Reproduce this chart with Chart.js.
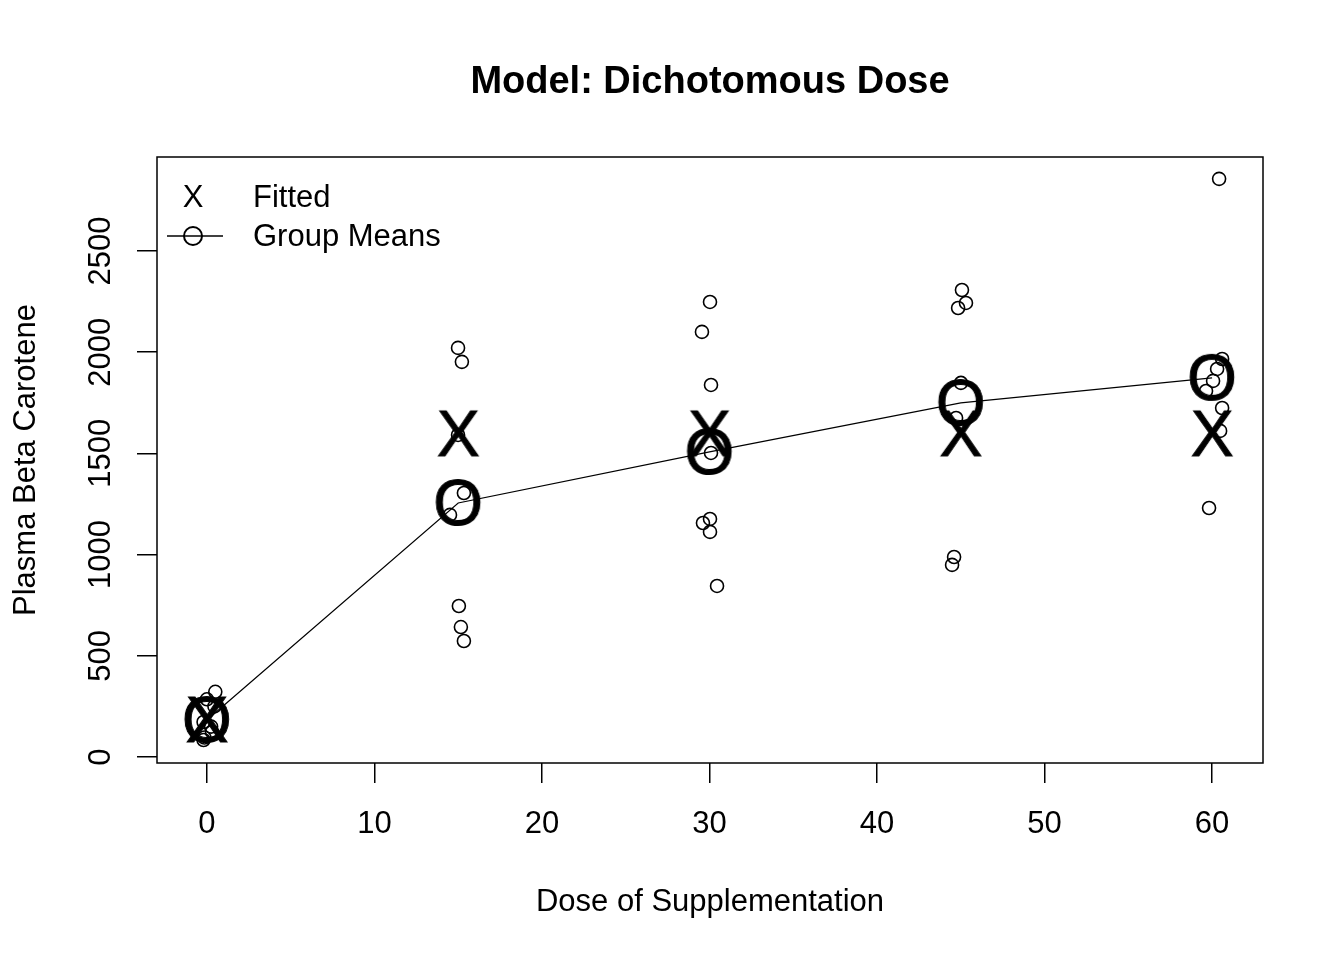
<!DOCTYPE html>
<html>
<head>
<meta charset="utf-8">
<script src="https://cdn.jsdelivr.net/npm/chart.js@4.4.1/dist/chart.umd.min.js"></script>
<style>
  html, body { margin: 0; padding: 0; background: #fff; }
  #wrap { width: 1344px; height: 960px; }
</style>
</head>
<body>
<div id="wrap"><canvas id="chart" width="1344" height="960"></canvas></div>
<script>
// dose groups and their summaries
const doses = [0, 15, 30, 45, 60];
const groupMeans = [183, 1255, 1507, 1749, 1873];
const fitted = [183, 1596, 1596, 1596, 1596];

// individual observations (dose jittered a little, as in the picture)
const obsDose = [
  0.5, 0.0, 0.45, -0.2, 0.25, 0.3, -0.15, -0.2,
  14.99, 15.22, 15.34, 14.51, 15.04, 15.16, 15.34, 14.99,
  30.03, 29.55, 30.09, 30.09, 29.61, 30.03, 30.03, 30.45,
  45.07, 45.31, 44.84, 45.01, 44.72, 44.60, 44.48,
  60.42, 60.60, 60.30, 60.06, 59.64, 60.60, 60.48, 59.82
];
const obsCarotene = [
  322, 285, 250, 173, 150, 124, 96, 84,
  2021, 1952, 1304, 1196, 746, 642, 573, 1591,
  2248, 2100, 1838, 1502, 1156, 1176, 1112, 845,
  2307, 2243, 2218, 1848, 1675, 988, 949,
  2856, 1966, 1917, 1858, 1808, 1724, 1611, 1230
];

const xTicks = [0, 10, 20, 30, 40, 50, 60];
const yTicks = [0, 500, 1000, 1500, 2000, 2500];

const FONT = 'Liberation Sans, Arial, sans-serif';

// big text glyphs used as plotting symbols (like pch = "X" / "O")
function glyph(ch, size) {
  const c = document.createElement('canvas');
  c.width = size * 1.2;
  c.height = size * 1.2;
  const g = c.getContext('2d');
  g.fillStyle = '#000';
  g.strokeStyle = '#000';
  g.lineWidth = 1;
  g.font = size + 'px ' + FONT;
  g.textAlign = 'center';
  g.textBaseline = 'middle';
  // nudge down so the glyph's ink is centred on the point
  g.fillText(ch, c.width / 2, c.height / 2 + 4);
  g.strokeText(ch, c.width / 2, c.height / 2 + 4);
  return c;
}
const xGlyph = glyph('X', 64);
const oGlyph = glyph('O', 64);

const boxPlugin = {
  id: 'box',
  afterDraw(chart) {
    const { ctx, chartArea: a } = chart;
    ctx.save();
    ctx.strokeStyle = '#000';
    ctx.lineWidth = 1.5;
    ctx.strokeRect(a.left, a.top, a.right - a.left, a.bottom - a.top);

    // legend
    ctx.fillStyle = '#000';
    ctx.font = '31px ' + FONT;
    ctx.textBaseline = 'middle';
    ctx.textAlign = 'center';
    ctx.fillText('X', 193, 198);
    ctx.textAlign = 'left';
    ctx.fillText('Fitted', 253, 198);
    ctx.fillText('Group Means', 253, 237);
    ctx.lineWidth = 1.3;
    ctx.beginPath();
    ctx.moveTo(167, 236);
    ctx.lineTo(223, 236);
    ctx.stroke();
    ctx.lineWidth = 2;
    ctx.beginPath();
    ctx.arc(193, 236, 9, 0, Math.PI * 2);
    ctx.stroke();
    ctx.restore();
  }
};

new Chart(document.getElementById('chart'), {
  type: 'scatter',
  data: {
    datasets: [
      {
        label: 'Observed',
        data: obsDose.map((d, i) => ({ x: d, y: obsCarotene[i] })),
        pointStyle: 'circle',
        pointRadius: 6.5,
        borderColor: '#000',
        borderWidth: 1.6,
        backgroundColor: 'rgba(0,0,0,0)'
      },
      {
        label: 'Group Means',
        data: doses.map((d, i) => ({ x: d, y: groupMeans[i] })),
        showLine: true,
        borderColor: '#000',
        borderWidth: 1.2,
        pointStyle: oGlyph,
        backgroundColor: 'rgba(0,0,0,0)'
      },
      {
        label: 'Fitted',
        data: doses.map((d, i) => ({ x: d, y: fitted[i] })),
        pointStyle: xGlyph,
        borderColor: '#000',
        backgroundColor: 'rgba(0,0,0,0)'
      }
    ]
  },
  options: {
    responsive: false,
    animation: false,
    events: [],
    layout: { padding: { left: 0, right: 81, top: 0, bottom: 0 } },
    plugins: {
      legend: { display: false },
      tooltip: { enabled: false },
      title: {
        display: true,
        fullSize: false,
        text: 'Model: Dichotomous Dose',
        color: '#000',
        font: { family: FONT, size: 38, weight: 'bold', lineHeight: 1.2 },
        padding: { top: 60.2, bottom: 51.2 }
      }
    },
    scales: {
      x: {
        type: 'linear',
        min: -2.98,
        max: 63.04,
        afterBuildTicks: s => { s.ticks = xTicks.map(v => ({ value: v })); },
        afterFit: s => { s.height = 197; },
        grid: { drawOnChartArea: false, drawTicks: true, tickLength: 20, color: '#000', lineWidth: 1.5 },
        border: { display: false },
        ticks: { color: '#000', font: { family: FONT, size: 31 }, padding: 23, maxRotation: 0, callback: v => String(v) },
        title: {
          display: true,
          text: 'Dose of Supplementation',
          color: '#000',
          font: { family: FONT, size: 31, lineHeight: 1.2 },
          padding: { bottom: 39 }
        }
      },
      y: {
        type: 'linear',
        min: -29.6,
        max: 2964,
        afterBuildTicks: s => { s.ticks = yTicks.map(v => ({ value: v })); },
        afterFit: s => { s.width = 157; },
        grid: { drawOnChartArea: false, drawTicks: true, tickLength: 20, color: '#000', lineWidth: 1.5 },
        border: { display: false },
        ticks: { color: '#000', font: { family: FONT, size: 31 }, padding: 1, minRotation: 90, maxRotation: 90, crossAlign: 'center', callback: v => String(v) },
        title: {
          display: true,
          text: 'Plasma Beta Carotene',
          color: '#000',
          font: { family: FONT, size: 31, lineHeight: 1.2 },
          padding: { top: 7.4 }
        }
      }
    }
  },
  plugins: [boxPlugin]
});
</script>
</body>
</html>
